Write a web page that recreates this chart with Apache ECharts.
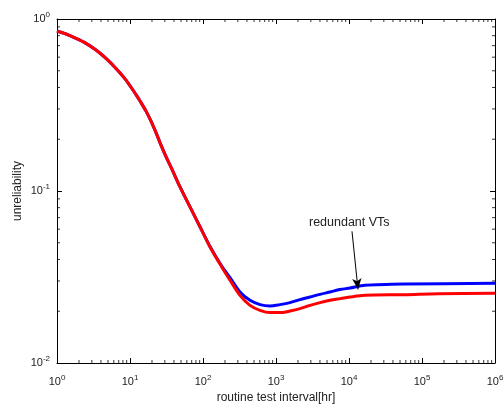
<!DOCTYPE html>
<html><head><meta charset="utf-8">
<script src="https://cdn.jsdelivr.net/npm/echarts@6/dist/echarts.min.js"></script>
<style>html,body{margin:0;padding:0;background:#fff}#c{width:504px;height:405px}</style>
</head><body><div id="c"></div>
<script>
// x values (hours) and series values
const xRed = [1, 1.328, 1.821, 2.496, 3.421, 4.691, 6.431, 8.815, 12.08, 14.15, 16.57, 19.40, 22.71, 26.59, 31.13, 36.45, 48.41, 66.37, 90.98, 124.7, 180.4, 234.4, 321.2, 440.4, 603.7, 827.7, 1134, 1555, 2132, 2923, 4006, 5492, 7529, 10320, 16570, 58500, 165700, 1e6];
const red  = [0.851, 0.818, 0.772, 0.722, 0.660, 0.590, 0.516, 0.4415, 0.3635, 0.3266, 0.2913, 0.2549, 0.2185, 0.1847, 0.1583, 0.1376, 0.1056, 0.0808, 0.0618, 0.0473, 0.0362, 0.0303, 0.02474, 0.02164, 0.02024, 0.01963, 0.01963, 0.02005, 0.02070, 0.02164, 0.02244, 0.02314, 0.02367, 0.02418, 0.02474, 0.02497, 0.02531, 0.02541];
const xBlue = [1, 1.328, 1.821, 2.496, 3.421, 4.691, 6.431, 8.815, 12.08, 14.15, 16.57, 19.40, 22.71, 26.59, 31.13, 36.45, 48.41, 66.37, 90.98, 124.7, 180.4, 234.4, 321.2, 440.4, 603.7, 827.7, 1134, 1555, 2132, 2923, 4006, 5492, 7529, 10320, 16570, 58500, 1e6];
const blue  = [0.851, 0.818, 0.772, 0.722, 0.660, 0.590, 0.516, 0.4415, 0.3635, 0.3266, 0.2913, 0.2549, 0.2185, 0.1847, 0.1583, 0.1376, 0.1056, 0.0808, 0.0620, 0.0476, 0.0366, 0.03137, 0.02587, 0.02314, 0.02185, 0.02144, 0.02185, 0.02244, 0.02336, 0.02418, 0.02507, 0.02587, 0.02672, 0.02729, 0.02829, 0.02878, 0.02905];
const xMin = 1, xMax = 1e6, yMin = 0.01, yMax = 1;
const annotationText = 'redundant VTs';
const arrowFrom = [10990, 0.0583];
const arrowTo = [13280, 0.0268];
const xName = 'routine test interval[hr]';
const yName = 'unreliability';

const minorX = [];
for (let e = 0; e < 6; e++) for (let k = 2; k <= 9; k++) minorX.push(k * Math.pow(10, e));
const minorY = [];
for (let e = -2; e < 0; e++) for (let k = 2; k <= 9; k++) minorY.push(k * Math.pow(10, e));

const FONT = '"Liberation Sans", Arial, Helvetica, sans-serif';
const pow = v => { const e = Math.round(Math.log10(v)); return '{b|10}{s|' + e + '}'; };
const rich = {
  b: { fontSize: 11, fontFamily: FONT, color: '#222', lineHeight: 14 },
  s: { fontSize: 8, fontFamily: FONT, color: '#222', lineHeight: 14, padding: [0, 0, 8, 0] }
};
const axisLine = { show: true, onZero: false, lineStyle: { color: '#000', width: 1 } };
const tick = { show: true, inside: true, length: 5, lineStyle: { color: '#000' } };
const TL = 3; // minor tick length

function tickSeries(data, size, offset) {
  return { type: 'scatter', data: data, symbol: 'rect', symbolSize: size, symbolOffset: offset,
    itemStyle: { color: '#000' }, clip: false, silent: true, z: 5, animation: false };
}

const chart = echarts.init(document.getElementById('c'), null, { renderer: 'canvas' });
chart.setOption({
  animation: false,
  backgroundColor: '#fff',
  grid: { left: 57, top: 19, right: 9, bottom: 42, containLabel: false, outerBoundsMode: 'none' },
  xAxis: [
    { type: 'log', logBase: 10, min: xMin, max: xMax, splitNumber: 6,
      name: xName, nameLocation: 'middle', nameGap: 29, nameMoveOverlap: false,
      nameTextStyle: { fontSize: 12, fontFamily: FONT, color: '#222' },
      axisLine: axisLine, axisTick: tick, splitLine: { show: false },
      axisLabel: { formatter: pow, rich: rich, margin: 12 } },
    { type: 'log', logBase: 10, min: xMin, max: xMax, splitNumber: 6, position: 'top',
      axisLine: axisLine, axisTick: tick, splitLine: { show: false }, axisLabel: { show: false } }
  ],
  yAxis: [
    { type: 'log', logBase: 10, min: yMin, max: yMax, splitNumber: 2,
      name: yName, nameLocation: 'middle', nameGap: 33, nameMoveOverlap: false,
      nameTextStyle: { fontSize: 12, fontFamily: FONT, color: '#222' },
      axisLine: axisLine, axisTick: tick, splitLine: { show: false },
      axisLabel: { formatter: pow, rich: rich, margin: 7 } },
    { type: 'log', logBase: 10, min: yMin, max: yMax, splitNumber: 2, position: 'right',
      axisLine: axisLine, axisTick: tick, splitLine: { show: false }, axisLabel: { show: false } }
  ],
  series: [
    { type: 'line', name: 'blue', data: xBlue.map((x, i) => [x, blue[i]]), smooth: 0.3,
      showSymbol: false, symbol: 'none', lineStyle: { color: '#0000ff', width: 3 },
      markLine: { silent: true, symbol: ['none', 'arrow'], symbolSize: [7, 11],
        lineStyle: { color: '#000', width: 1, type: 'solid' }, label: { show: false },
        data: [[{ coord: arrowFrom }, { coord: arrowTo }]] } },
    { type: 'line', name: 'red', data: xRed.map((x, i) => [x, red[i]]), smooth: 0.3,
      showSymbol: false, symbol: 'none', lineStyle: { color: '#ff0000', width: 3 } },
    tickSeries(minorX.map(v => [v, yMin]), [1, TL], [0, -TL / 2]),
    tickSeries(minorX.map(v => [v, yMax]), [1, TL], [0, TL / 2]),
    tickSeries(minorY.map(v => [xMin, v]), [TL, 1], [TL / 2, 0]),
    tickSeries(minorY.map(v => [xMax, v]), [TL, 1], [-TL / 2, 0])
  ],
  graphic: [
    { type: 'text', left: 309, top: 216, style: { text: annotationText, fontSize: 12.5, fontFamily: FONT, fill: '#222' } }
  ]
});
</script></body></html>
